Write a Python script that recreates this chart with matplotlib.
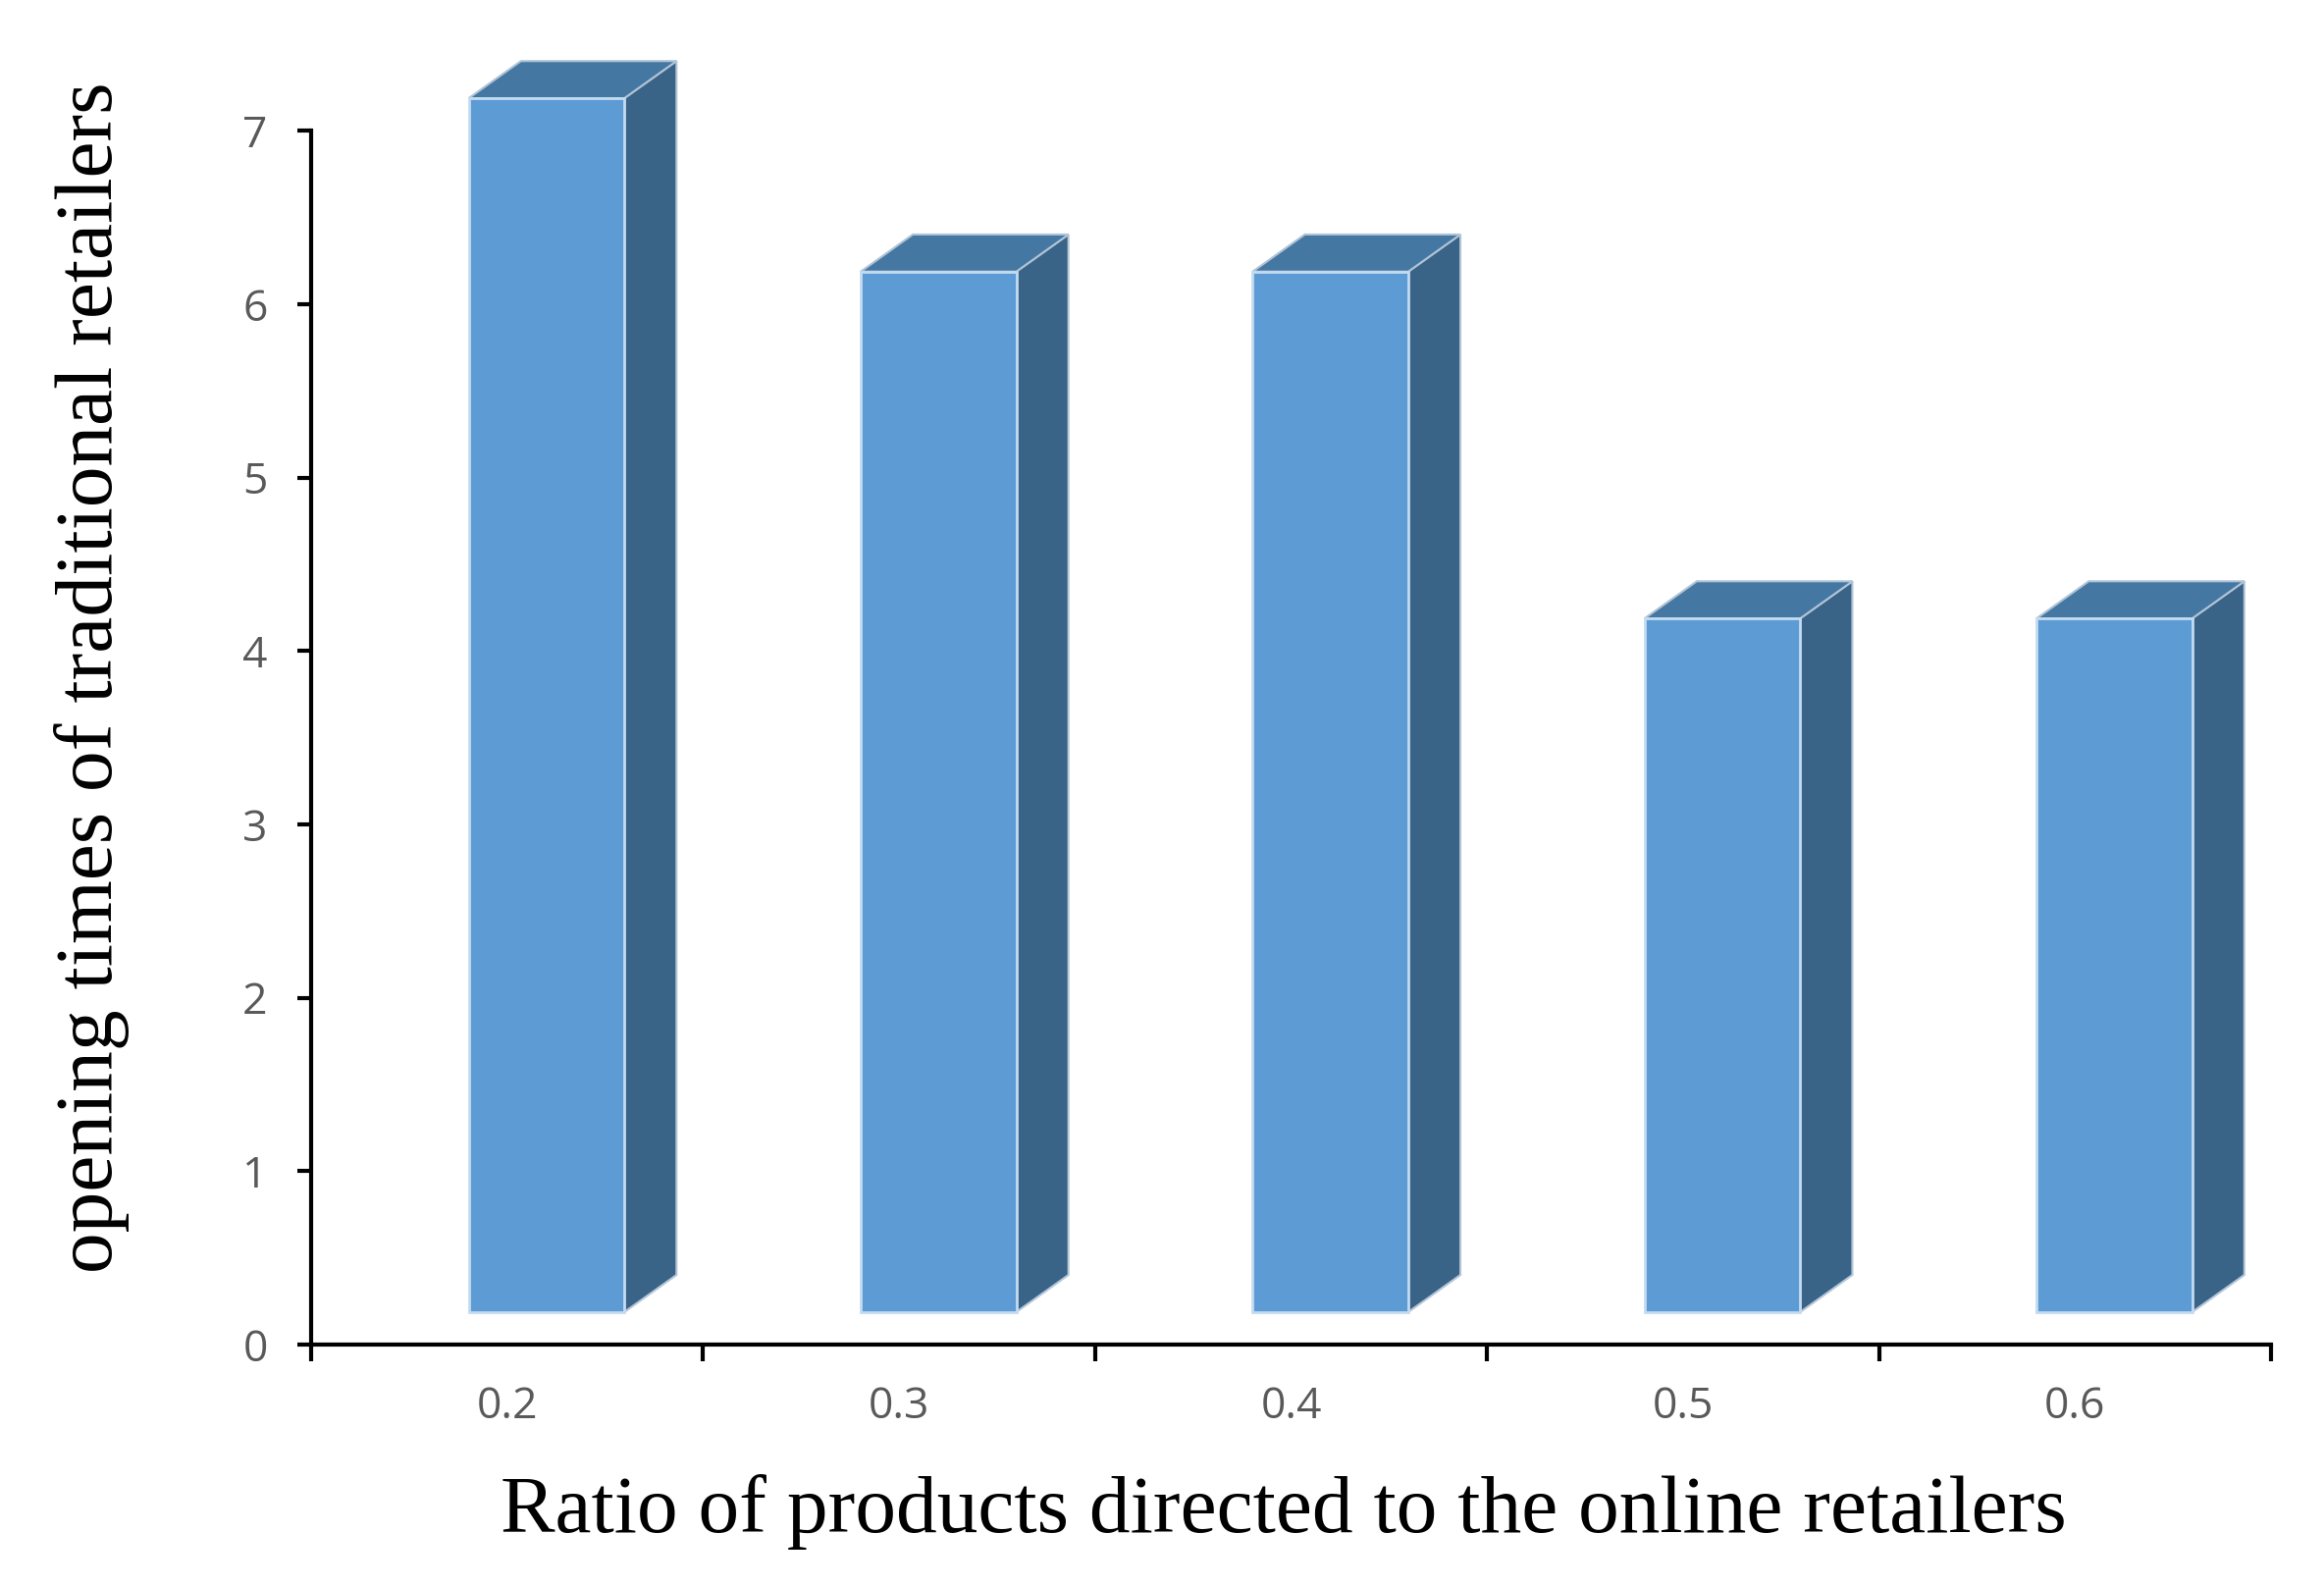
#!/usr/bin/env python3
"""Pseudo-3D column chart: opening times of traditional retailers vs. online ratio."""

import matplotlib

matplotlib.use("Agg")
import matplotlib.pyplot as plt
from matplotlib.patches import Polygon, Rectangle


ratios = ["0.2", "0.3", "0.4", "0.5", "0.6"]
opening_times = [7, 6, 6, 4, 4]
y_ticks = [0, 1, 2, 3, 4, 5, 6, 7]

FRONT = "#5D9BD5"
TOP = "#4577A3"
SIDE = "#396387"
EDGE = "#C3DBF1"

# bar geometry in data units (Excel-like 3D offset)
BAR_LEFT = -0.098
BAR_W = 0.397
DEPTH_X = 0.133
DEPTH_Y = 0.214
FLOOR = 0.188


def draw_bar(ax, x0, value):
    xl = x0 + BAR_LEFT
    xr = xl + BAR_W
    b = FLOOR
    t = FLOOR + value
    side = Polygon(
        [(xr, b), (xr + DEPTH_X, b + DEPTH_Y), (xr + DEPTH_X, t + DEPTH_Y), (xr, t)],
        closed=True, facecolor=SIDE, edgecolor="#B4C6D8", linewidth=1.5, zorder=2,
    )
    top = Polygon(
        [(xl, t), (xr, t), (xr + DEPTH_X, t + DEPTH_Y), (xl + DEPTH_X, t + DEPTH_Y)],
        closed=True, facecolor=TOP, edgecolor="#AFC3D6", linewidth=1.5, zorder=2,
    )
    front = Rectangle(
        (xl, b), BAR_W, value,
        facecolor=FRONT, edgecolor=EDGE, linewidth=2.0, zorder=3,
    )
    for patch in (side, top, front):
        ax.add_patch(patch)


def main() -> None:
    fig = plt.figure(figsize=(23.68, 16.16), dpi=100)
    ax = fig.add_axes([0.1339, 0.1522, 0.8433, 0.82])

    for i, v in enumerate(opening_times):
        draw_bar(ax, i, v)

    ax.set_xlim(-0.5, len(ratios) - 0.5)
    ax.set_ylim(0, 7.5)

    for side in ("top", "right"):
        ax.spines[side].set_visible(False)
    ax.spines["left"].set_bounds(0, 7)
    ax.spines["left"].set_linewidth(3)
    ax.spines["bottom"].set_linewidth(3)

    ax.set_yticks(y_ticks)
    ax.set_yticklabels([str(t) for t in y_ticks])

    # category labels at centres, tick marks at boundaries
    ax.set_xticks(list(range(len(ratios))))
    ax.set_xticklabels(ratios)
    ax.set_xticks([i - 0.5 for i in range(len(ratios) + 1)], minor=True)
    ax.tick_params(axis="x", which="major", length=0, pad=30)
    ax.tick_params(axis="x", which="minor", length=12, width=3, direction="out")
    ax.tick_params(axis="y", length=10, width=3, direction="out", pad=22)

    for lbl in ax.get_xticklabels() + ax.get_yticklabels():
        lbl.set_fontfamily("Open Sans")
        lbl.set_fontsize(32)
        lbl.set_color("#595959")

    fig.text(
        0.5524, 0.047, "Ratio of products directed to the online retailers",
        fontfamily="Liberation Serif", fontsize=60, ha="center", va="center",
    )
    fig.text(
        0.0395, 0.573, "opening times of traditional retailers",
        fontfamily="Liberation Serif", fontsize=60, ha="center", va="center",
        rotation=90,
    )

    fig.savefig("out.png", dpi=100)
    plt.close(fig)


if __name__ == "__main__":
    main()
